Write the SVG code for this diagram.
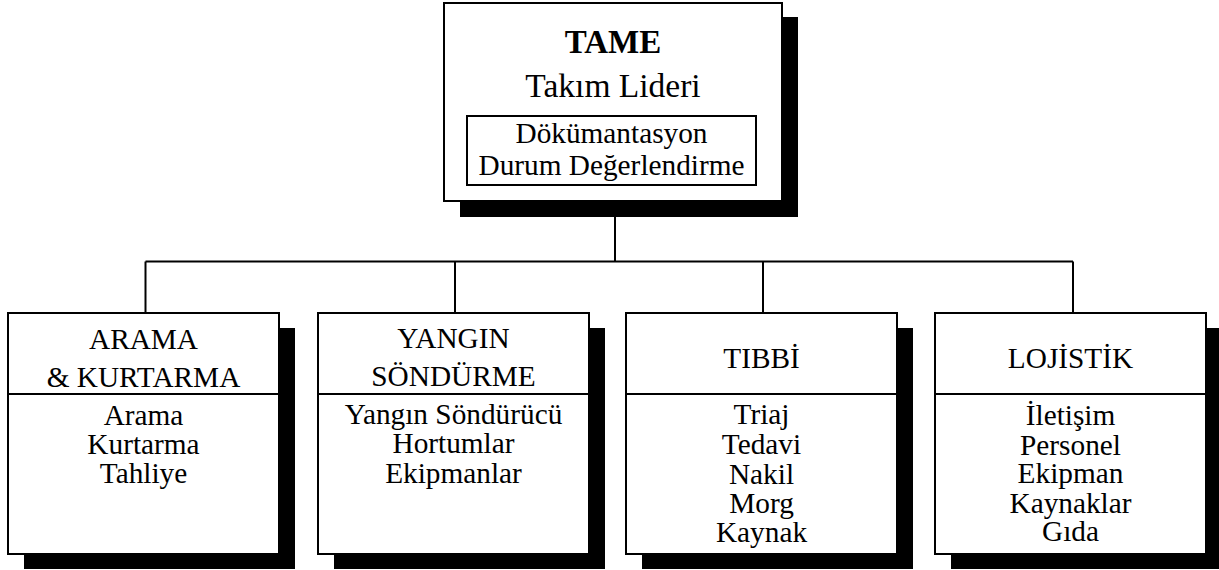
<svg xmlns="http://www.w3.org/2000/svg" width="1219" height="570" viewBox="0 0 1219 570">
  <style>
    .box { fill: #ffffff; stroke: #000000; stroke-width: 2; }
    .shadow { fill: #000000; stroke: none; }
    .rule { stroke: #000000; stroke-width: 2; fill: none; }
    .wire { stroke: #000000; stroke-width: 2; fill: none; }
    text { font-family: "Liberation Serif", "Times New Roman", serif; fill: #000000; text-anchor: middle; }
    .title { font-size: 33px; font-weight: bold; }
    .sub { font-size: 33.5px; }
    .lbl { font-size: 29.3px; }
  </style>

  <!-- connectors -->
  <g id="connectors">
    <path class="wire" d="M615 201 V261.5"/>
    <path class="wire" d="M145.5 261.5 H1073"/>
    <path class="wire" d="M145.5 261.5 V313"/>
    <path class="wire" d="M455 261.5 V313"/>
    <path class="wire" d="M763 261.5 V313"/>
    <path class="wire" d="M1073 261.5 V313"/>
  </g>

  <!-- team leader -->
  <g id="tame">
    <rect class="shadow" x="460" y="17" width="338" height="200"/>
    <rect class="box" x="444" y="3" width="338" height="198"/>
    <text class="title" x="613" y="53">TAME</text>
    <text class="sub" x="613" y="97">Takım Lideri</text>
    <rect class="box" x="467" y="116" width="289" height="69"/>
    <text class="lbl" x="611.5" y="143">Dökümantasyon</text>
    <text class="lbl" x="611.5" y="175">Durum Değerlendirme</text>
  </g>

  <!-- search & rescue -->
  <g id="arama">
    <rect class="shadow" x="24" y="328" width="271" height="241"/>
    <rect class="box" x="8" y="313" width="271" height="241"/>
    <line class="rule" x1="8" y1="394" x2="279" y2="394"/>
    <text class="lbl" x="143.5" y="349">ARAMA</text>
    <text class="lbl" x="143.5" y="387">&amp; KURTARMA</text>
    <text class="lbl" x="143.5" y="425">Arama</text>
    <text class="lbl" x="143.5" y="454">Kurtarma</text>
    <text class="lbl" x="143.5" y="483">Tahliye</text>
  </g>

  <!-- fire fighting -->
  <g id="yangin">
    <rect class="shadow" x="334" y="328" width="271" height="241"/>
    <rect class="box" x="318" y="313" width="271" height="241"/>
    <line class="rule" x1="318" y1="394" x2="589" y2="394"/>
    <text class="lbl" x="453.5" y="348">YANGIN</text>
    <text class="lbl" x="453.5" y="386">SÖNDÜRME</text>
    <text class="lbl" x="453.5" y="424">Yangın Söndürücü</text>
    <text class="lbl" x="453.5" y="453">Hortumlar</text>
    <text class="lbl" x="453.5" y="483">Ekipmanlar</text>
  </g>

  <!-- medical -->
  <g id="tibbi">
    <rect class="shadow" x="642" y="328" width="271" height="241"/>
    <rect class="box" x="626" y="313" width="271" height="241"/>
    <line class="rule" x1="626" y1="394" x2="897" y2="394"/>
    <text class="lbl" x="761.5" y="368">TIBBİ</text>
    <text class="lbl" x="761.5" y="424">Triaj</text>
    <text class="lbl" x="761.5" y="454">Tedavi</text>
    <text class="lbl" x="761.5" y="484">Nakil</text>
    <text class="lbl" x="761.5" y="513">Morg</text>
    <text class="lbl" x="761.5" y="542">Kaynak</text>
  </g>

  <!-- logistics -->
  <g id="lojistik">
    <rect class="shadow" x="951" y="328" width="271" height="241"/>
    <rect class="box" x="935" y="313" width="271" height="241"/>
    <line class="rule" x1="935" y1="394" x2="1206" y2="394"/>
    <text class="lbl" x="1070.5" y="368">LOJİSTİK</text>
    <text class="lbl" x="1070.5" y="425">İletişim</text>
    <text class="lbl" x="1070.5" y="455">Personel</text>
    <text class="lbl" x="1070.5" y="483">Ekipman</text>
    <text class="lbl" x="1070.5" y="513">Kaynaklar</text>
    <text class="lbl" x="1070.5" y="541">Gıda</text>
  </g>
</svg>
